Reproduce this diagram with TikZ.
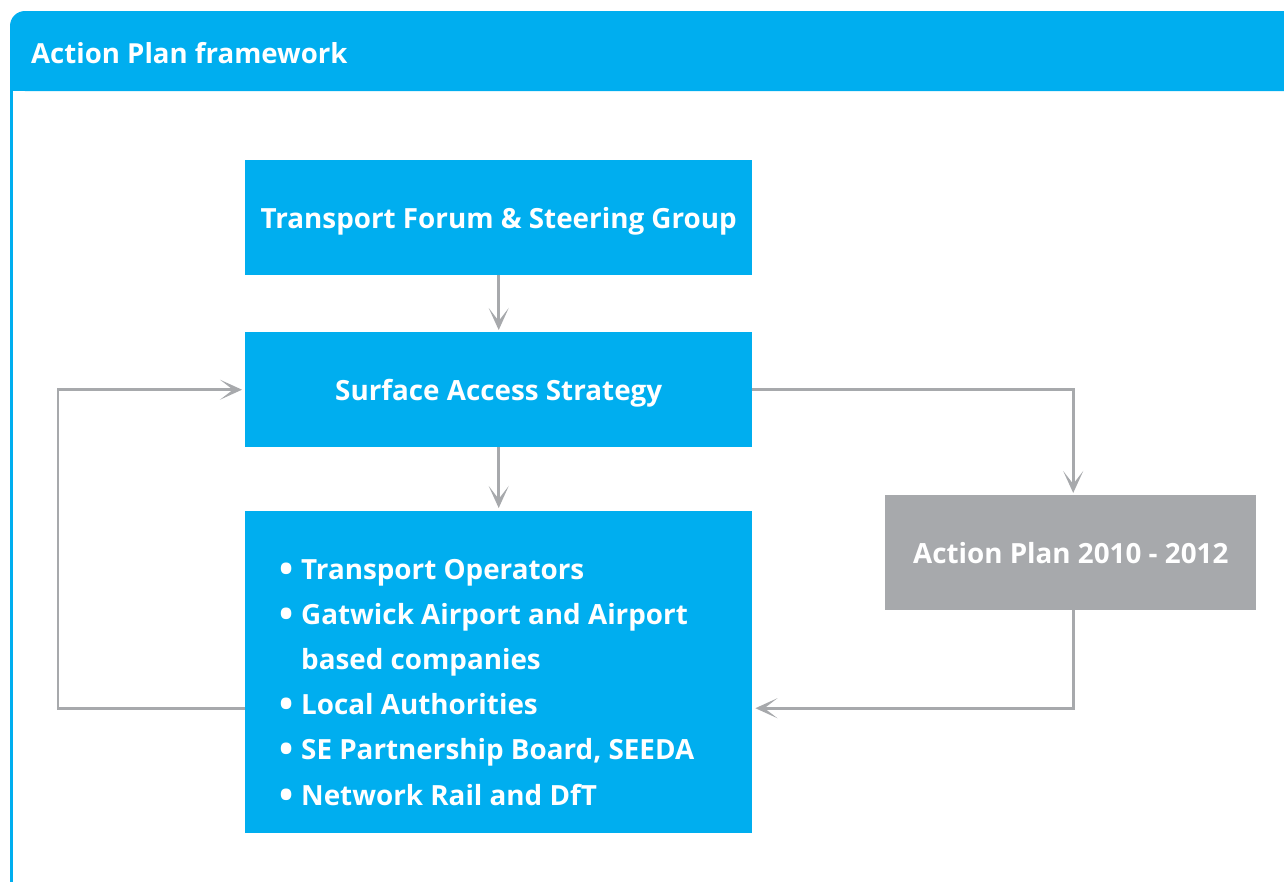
\documentclass[tikz,border=0pt]{standalone}
\usepackage{fontspec}
\setmainfont{Open Sans}
\usetikzlibrary{arrows.meta}
\definecolor{cyanA}{HTML}{00AEEF}
\definecolor{grayA}{HTML}{A7A9AC}
\newcommand{\bul}{\makebox[22pt][l]{\raisebox{-3.6pt}{\scalebox{1.35}{•}}}}
\begin{document}
\begin{tikzpicture}[x=1pt,y=-1pt,
  box/.style={fill=cyanA, text=white, font=\bfseries\fontsize{27.8}{32}\selectfont,
    minimum width=507pt, minimum height=115pt, inner sep=0pt, anchor=north west,
    text height=21pt, text depth=0pt},
  item/.style={text=white, font=\bfseries\fontsize{27.8}{32}\selectfont, inner sep=0pt, anchor=base west},
  conn/.style={draw=grayA, line width=2.8pt, shorten >=2pt,
    -{Stealth[length=22pt,width=20pt,inset=13pt]}},
]
\useasboundingbox (0,0) rectangle (1284,881);
% frame
\fill[cyanA, rounded corners=15pt] (10,11) rectangle (1330,91);
\fill[cyanA] (10,40) rectangle (1330,91);
\draw[cyanA, line width=3pt] (11.5,85) -- (11.5,895);
\node[text=white, font=\bfseries\fontsize{27.6}{32}\selectfont, inner sep=0pt, anchor=base west] (title) at (31,63) {Action Plan framework};
% boxes
\node[box] (forum) at (245,160) {Transport Forum \& Steering Group};
\node[box] (sas) at (245,332) {Surface Access Strategy};
\node[box, minimum height=322pt] (list) at (245,511) {};
\node[box, fill=grayA, minimum width=371pt] (ap) at (885,495) {Action Plan 2010 - 2012};
% list items
\node[item] (l1) at (279,579) {\bul Transport Operators};
\node[item] (l2) at (279,624) {\bul Gatwick Airport and Airport};
\node[item] (l3) at (279,669) {\makebox[22pt][l]{}based companies};
\node[item] (l4) at (279,714) {\bul Local Authorities};
\node[item] (l5) at (279,759) {\bul SE Partnership Board, SEEDA};
\node[item] (l6) at (279,805) {\bul Network Rail and DfT};
% connectors
\draw[conn] (forum.south) -- (sas.north);
\draw[conn, shorten >=3pt] (sas.south) -- (list.north);
\draw[conn] (sas.east) -| ([xshift=2.5pt]ap.north);
\draw[conn, shorten >=3pt] ([xshift=2.5pt]ap.south) |- ([yshift=-36pt]list.east);
\draw[conn, shorten >=3pt] ([yshift=-36pt]list.west) -- ++(-187,0) |- (sas.west);
\end{tikzpicture}
\end{document}
